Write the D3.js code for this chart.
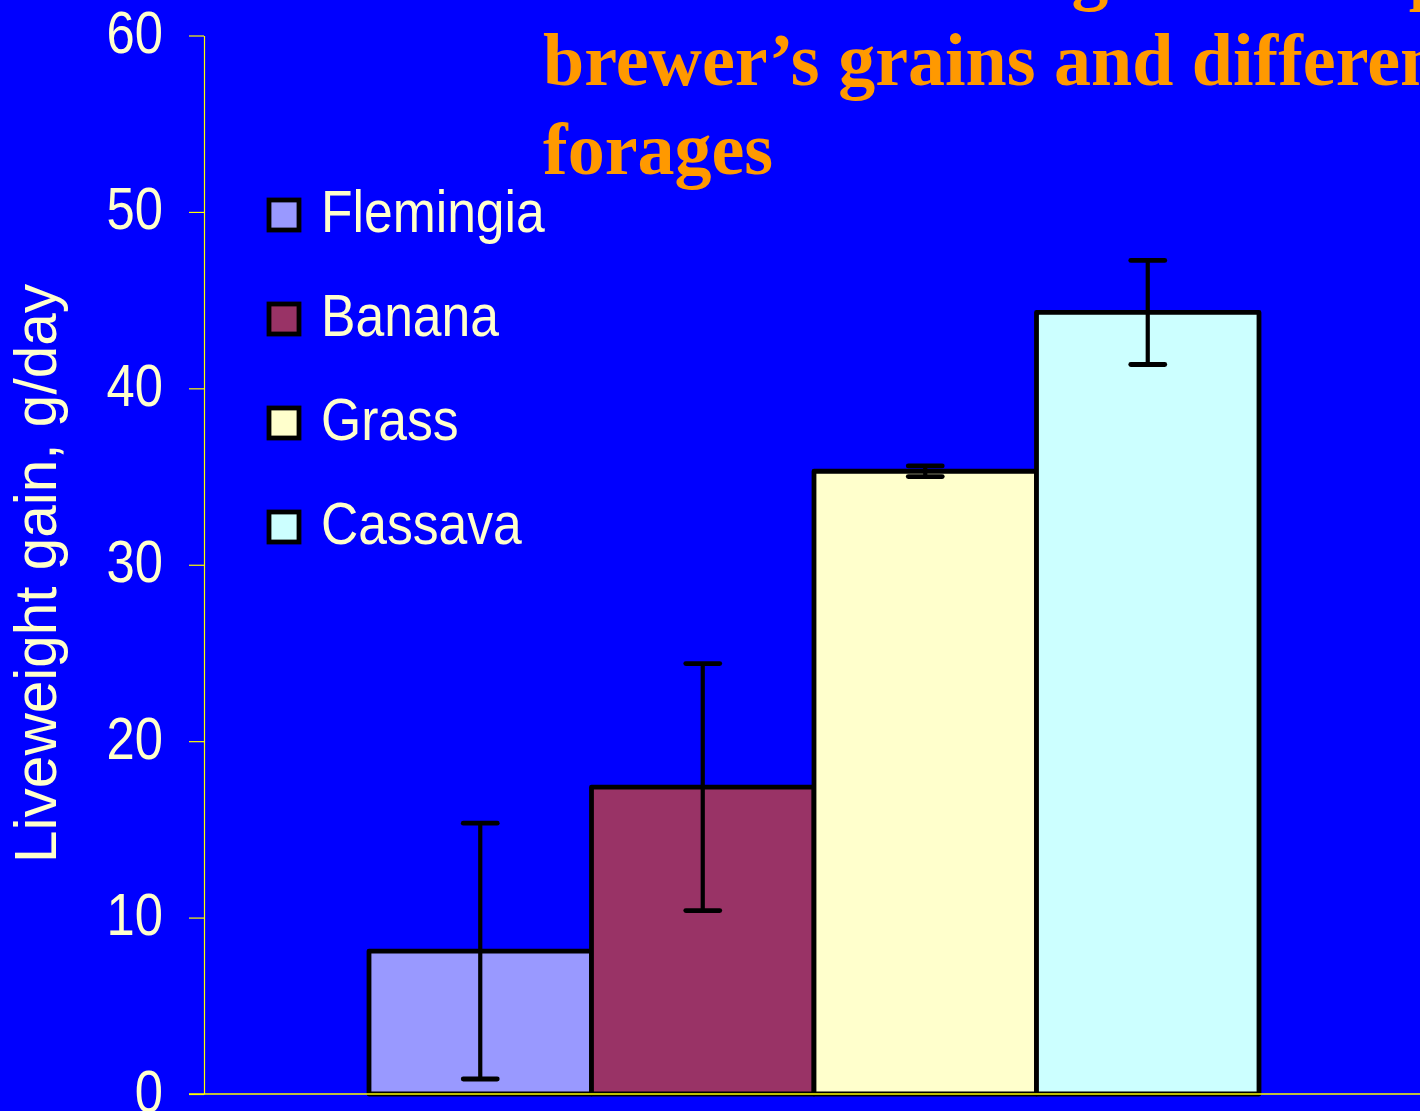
<!DOCTYPE html>
<html>
<head>
<meta charset="utf-8">
<script src="https://cdn.jsdelivr.net/npm/d3@7"></script>
<style>
  html, body { margin: 0; padding: 0; background: #0000ff; overflow: hidden; }
  svg { display: block; }
</style>
</head>
<body>
<svg id="chart" width="1420" height="1111"></svg>
<script>
// ---- data ----
const groups = ["All"];
const series = ["Flemingia", "Banana", "Grass", "Cassava"];
const values = [8.1, 17.4, 35.3, 44.3];
const errors = [7.25, 7.0, 0.3, 2.95];
const colors = ["#9999ff", "#993366", "#ffffcc", "#ccffff"];
const yTicks = [0, 10, 20, 30, 40, 50, 60];
const yTitle = "Liveweight gain, g/day";
const titleLines = ["Growth rates of gilts fed supplements of", "brewer\u2019s grains and different", "forages"];

// ---- layout ----
const W = 1420, H = 1111;
const plot = { left: 204, right: 1424, top: 35.5, bottom: 1094 };
const sansFont = "'Liberation Sans', Arial, sans-serif";
const textCol = "#ffffcc";
const axisCol = "#ffff00";

const svg = d3.select("#chart");
svg.append("rect").attr("width", W).attr("height", H).attr("fill", "#0000ff");

const y = d3.scaleLinear().domain([0, 60]).range([plot.bottom, plot.top]);
const x0 = d3.scaleBand().domain(groups).range([plot.left, plot.right]).padding(0.1564);
const x1 = d3.scaleBand().domain(series).range([0, x0.bandwidth()]).padding(0);

// title
const title = svg.append("text")
  .attr("x", 543)
  .attr("font-family", "'Liberation Serif', 'Times New Roman', serif")
  .attr("font-weight", "bold")
  .attr("font-size", 74)
  .attr("fill", "#ff9900");
titleLines.forEach((t, i) => {
  title.append("tspan").attr("x", i === 0 ? 553 : 543).attr("y", -4 + i * 89).text(t);
});

// bars
const data = series.map((s, i) => ({ s, v: values[i], e: errors[i], c: colors[i] }));
const g = svg.append("g").attr("transform", `translate(${x0(groups[0])},0)`);
g.selectAll("rect.bar").data(data).join("rect")
  .attr("class", "bar")
  .attr("x", d => x1(d.s))
  .attr("width", x1.bandwidth())
  .attr("y", d => y(d.v))
  .attr("height", d => y(0) - y(d.v))
  .attr("fill", d => d.c)
  .attr("stroke", "#000")
  .attr("stroke-width", 4.8)
  .attr("stroke-linejoin", "round");

// error bars
const eb = g.selectAll("g.err").data(data).join("g").attr("class", "err")
  .attr("transform", d => `translate(${x1(d.s) + x1.bandwidth() / 2},0)`);
eb.append("line")
  .attr("x1", 0).attr("x2", 0)
  .attr("y1", d => y(d.v + d.e)).attr("y2", d => y(d.v - d.e))
  .attr("stroke", "#000").attr("stroke-width", 4.2);
eb.append("line")
  .attr("x1", -17).attr("x2", 17)
  .attr("y1", d => y(d.v + d.e)).attr("y2", d => y(d.v + d.e))
  .attr("stroke", "#000").attr("stroke-width", 4.8).attr("stroke-linecap", "round");
eb.append("line")
  .attr("x1", -17).attr("x2", 17)
  .attr("y1", d => y(d.v - d.e)).attr("y2", d => y(d.v - d.e))
  .attr("stroke", "#000").attr("stroke-width", 4.8).attr("stroke-linecap", "round");

// y axis
const yAxis = svg.append("g")
  .attr("transform", `translate(${plot.left},0)`)
  .call(d3.axisLeft(y).tickValues(yTicks).tickSize(15).tickSizeOuter(0).tickFormat(d3.format("d")));
yAxis.select(".domain").attr("stroke", axisCol).attr("stroke-width", 1.2);
yAxis.selectAll(".tick line").attr("stroke", axisCol).attr("stroke-width", 1.2);
yAxis.selectAll(".tick text")
  .attr("x", 0).attr("y", 17).attr("dy", null)
  .attr("transform", "translate(-41,0) scale(0.86,1)")
  .attr("text-anchor", "end")
  .attr("font-family", sansFont)
  .attr("font-size", 59)
  .attr("fill", textCol);

// x axis line
svg.append("line")
  .attr("x1", plot.left - 15).attr("x2", W)
  .attr("y1", y(0)).attr("y2", y(0))
  .attr("stroke", axisCol).attr("stroke-width", 1.5);

// y title
svg.append("text")
  .attr("transform", `translate(56,${(285 + 862) / 2}) rotate(-90)`)
  .attr("text-anchor", "middle")
  .attr("font-family", sansFont)
  .attr("font-size", 58.5)
  .attr("fill", textCol)
  .text(yTitle);

// legend
const legend = svg.append("g");
const li = legend.selectAll("g").data(data).join("g")
  .attr("transform", (d, i) => `translate(0,${215 + i * 104})`);
li.append("rect")
  .attr("x", 269).attr("y", -15).attr("width", 30).attr("height", 30)
  .attr("fill", d => d.c).attr("stroke", "#000").attr("stroke-width", 4.8);
li.append("text")
  .attr("transform", "translate(321,17) scale(0.875,1)")
  .attr("font-family", sansFont)
  .attr("font-size", 59)
  .attr("fill", textCol)
  .text(d => d.s);
</script>
</body>
</html>
